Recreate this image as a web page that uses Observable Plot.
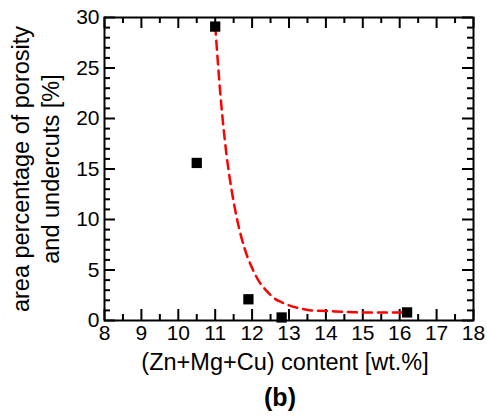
<!DOCTYPE html>
<html><head><meta charset="utf-8">
<script src="https://cdn.jsdelivr.net/npm/d3@7"></script>
<script src="https://cdn.jsdelivr.net/npm/@observablehq/plot@0.6"></script>
<style>
html,body{margin:0;padding:0;background:#fff;}
svg{font-family:"Liberation Sans",Arial,sans-serif;}
</style></head>
<body><div id="chart"></div>
<script>
// measured points
const pointX = [10.5, 11.0, 11.9, 12.8, 16.2];
const pointY = [15.6, 29.1, 2.1, 0.3, 0.8];
// dashed fit curve
const curveX = [11.0, 11.15, 11.3, 11.45, 11.6, 11.8, 12.0, 12.2, 12.4, 12.6, 12.8, 13.0, 13.3, 13.6, 14.0, 14.5, 15.0, 15.5, 16.2];
const curveY = [29.2, 22.0, 16.6, 12.8, 9.9, 7.1, 5.2, 3.8, 2.9, 2.2, 1.8, 1.5, 1.2, 1.0, 0.95, 0.85, 0.8, 0.8, 0.8];
const xMajor = [8, 9, 10, 11, 12, 13, 14, 15, 16, 17, 18];
const xMinor = [8.5, 9.5, 10.5, 11.5, 12.5, 13.5, 14.5, 15.5, 16.5, 17.5];
const yMajor = [0, 5, 10, 15, 20, 25, 30];
const yMinor = [1,2,3,4,6,7,8,9,11,12,13,14,16,17,18,19,21,22,23,24,26,27,28,29];
const xLabel = "(Zn+Mg+Cu) content [wt.%]";
const yLabel = "area percentage of porosity\nand undercuts [%]";
const panel = "(b)";

const points = pointX.map((x, i) => ({x, y: pointY[i]}));
const curve = curveX.map((x, i) => ({x, y: curveY[i]}));

const W = 487, H = 419, mt = 17, mb = 99, ml = 104, mr = 14;
const ph = H - mt - mb, pw = W - ml - mr;
const MAJ = 11, MIN = 6;

const chart = Plot.plot({
  width: W, height: H,
  marginTop: mt, marginBottom: mb, marginLeft: ml, marginRight: mr,
  style: {fontSize: "21px", fontFamily: "Liberation Sans, Arial, sans-serif", color: "#000", background: "#fff"},
  x: {domain: [8, 18], axis: null},
  y: {domain: [0, 30], axis: null},
  marks: [
    Plot.text(xMajor, {x: d => d, text: d => String(d), frameAnchor: "bottom", dy: 5, lineAnchor: "top", fontSize: 21}),
    Plot.text(yMajor, {y: d => d, text: d => String(d), frameAnchor: "left", dx: -5, textAnchor: "end", lineAnchor: "middle", fontSize: 21}),
    Plot.ruleX(xMajor, {x: d => d, insetTop: ph - MAJ, strokeWidth: 2}),
    Plot.ruleX(xMajor, {x: d => d, insetBottom: ph - MAJ, strokeWidth: 2}),
    Plot.ruleX(xMinor, {x: d => d, insetTop: ph - MIN, strokeWidth: 2}),
    Plot.ruleX(xMinor, {x: d => d, insetBottom: ph - MIN, strokeWidth: 2}),
    Plot.ruleY(yMajor, {y: d => d, insetRight: pw - MAJ, strokeWidth: 2}),
    Plot.ruleY(yMajor, {y: d => d, insetLeft: pw - MAJ, strokeWidth: 2}),
    Plot.ruleY(yMinor, {y: d => d, insetRight: pw - MIN, strokeWidth: 2}),
    Plot.ruleY(yMinor, {y: d => d, insetLeft: pw - MIN, strokeWidth: 2}),
    Plot.frame({stroke: "#000", strokeWidth: 2}),
    Plot.line(curve, {x: "x", y: "y", curve: "monotone-x", stroke: "#ff0000", strokeWidth: 2.5, strokeDasharray: "9,6"}),
    Plot.dot(points, {x: "x", y: "y", symbol: "square", r: 5.8, fill: "#000", stroke: "none"}),
    Plot.text([xLabel], {frameAnchor: "bottom", dy: 42, fontSize: 23.5, textAnchor: "middle", lineAnchor: "middle", dx: -4}),
    Plot.text([panel], {frameAnchor: "bottom", dy: 77, fontSize: 25, fontWeight: "bold", textAnchor: "middle", lineAnchor: "middle", dx: -9}),
    Plot.text([yLabel], {frameAnchor: "left", dx: -70, rotate: -90, fontSize: 23.5, lineHeight: 1.28, textAnchor: "middle", lineAnchor: "middle"})
  ]
});
document.getElementById("chart").appendChild(chart);
</script></body></html>
